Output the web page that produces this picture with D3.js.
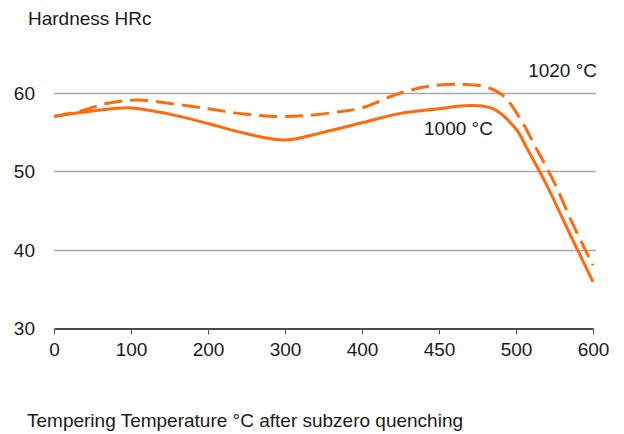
<!DOCTYPE html>
<html>
<head>
<meta charset="utf-8">
<script src="https://cdn.jsdelivr.net/npm/d3@7"></script>
<style>
  html, body { margin: 0; padding: 0; background: #fff; }
  svg { display: block; }
  text { font-family: "Liberation Sans", Arial, sans-serif; fill: #1a1a1a; }
</style>
</head>
<body>
<svg id="chart" width="624" height="434"></svg>
<script>
// ---- data ----
const xTickTemps = [0, 100, 200, 300, 400, 450, 500, 600];
const yTicks = [30, 40, 50, 60];

// 1000 °C austenitizing (solid)
const temps1000 = [0, 50, 100, 150, 200, 250, 300, 350, 400, 425, 450, 470, 485, 500, 515, 540, 570, 600];
const hard1000  = [57.0, 57.7, 58.1, 57.3, 56.1, 54.8, 54.0, 55.0, 56.2, 57.4, 58.0, 58.4, 58.0, 55.4, 52.8, 48.2, 42.0, 35.9];

// 1020 °C austenitizing (dashed)
const temps1020 = [0, 35, 70, 110, 155, 200, 240, 285, 325, 370, 400, 425, 445, 465, 480, 492, 505, 525, 550, 575, 600];
const hard1020  = [57.0, 57.7, 58.7, 59.1, 58.6, 58.0, 57.4, 57.0, 57.1, 57.6, 58.1, 60.0, 60.9, 61.1, 60.8, 59.6, 56.8, 53.2, 48.5, 43.0, 38.0];

const yTitle = "Hardness HRc";
const xTitle = "Tempering Temperature °C after subzero quenching";
const label1000 = "1000 °C";
const label1020 = "1020 °C";

(function () {
// ---- layout ----
const svg = d3.select("#chart");
const mLeft = 54, mRight = 593, mTop = 93, mBottom = 328;
const orange = "#ff6a0d";
const font = "'Liberation Sans', Arial, sans-serif";
const fs = 19;

// Non-uniform x axis: each labelled temperature is equally spaced
const step = (mRight - mLeft) / (xTickTemps.length - 1);
const x = d3.scaleLinear()
  .domain(xTickTemps)
  .range(xTickTemps.map((d, i) => mLeft + i * step));

const y = d3.scaleLinear().domain([30, 60]).range([mBottom, mTop]);

// grid lines
svg.append("g")
  .selectAll("line")
  .data(yTicks.filter(d => d !== 30))
  .join("line")
  .attr("x1", mLeft).attr("x2", mRight + 3)
  .attr("y1", d => Math.round(y(d)) + 0.5).attr("y2", d => Math.round(y(d)) + 0.5)
  .attr("stroke", "#a8a8a8").attr("stroke-width", 1.6);

// y labels
svg.append("g")
  .selectAll("text")
  .data(yTicks)
  .join("text")
  .attr("x", 35)
  .attr("y", d => y(d))
  .attr("dy", "0.36em")
  .attr("text-anchor", "end")
  .attr("font-size", fs)
  .text(d => d);

// x axis
const xAxis = d3.axisBottom(x)
  .tickValues(xTickTemps)
  .tickSize(6)
  .tickPadding(8)
  .tickSizeOuter(0)
  .tickFormat(d3.format("d"));

const gx = svg.append("g")
  .attr("transform", `translate(0,${mBottom + 0.5})`)
  .call(xAxis);
gx.select(".domain").attr("stroke", "#111").attr("stroke-width", 1.3);
gx.selectAll(".tick line").attr("stroke", "#555").attr("stroke-width", 1);
gx.selectAll(".tick text")
  .attr("font-size", fs)
  .attr("font-family", font)
  .attr("fill", "#1a1a1a");

// lines
const line = d3.line()
  .x(d => x(d[0]))
  .y(d => y(d[1]))
  .curve(d3.curveCatmullRom.alpha(0.5));

const s1000 = temps1000.map((t, i) => [t, hard1000[i]]);
const s1020 = temps1020.map((t, i) => [t, hard1020[i]]);

svg.append("path")
  .datum(s1020)
  .attr("d", line)
  .attr("fill", "none")
  .attr("stroke", orange)
  .attr("stroke-width", 3)
  .attr("stroke-dasharray", "18,8");

svg.append("path")
  .datum(s1000)
  .attr("d", line)
  .attr("fill", "none")
  .attr("stroke", orange)
  .attr("stroke-width", 3);

// titles & labels
svg.append("text")
  .attr("x", 28).attr("y", 25)
  .attr("font-size", fs)
  .text(yTitle);

svg.append("text")
  .attr("x", 27).attr("y", 427)
  .attr("font-size", fs)
  .text(xTitle);

svg.append("text")
  .attr("x", 597).attr("y", 77)
  .attr("text-anchor", "end")
  .attr("font-size", fs)
  .text(label1020);

svg.append("text")
  .attr("x", 424).attr("y", 135)
  .attr("font-size", fs)
  .text(label1000);
})();
</script>
</body>
</html>
